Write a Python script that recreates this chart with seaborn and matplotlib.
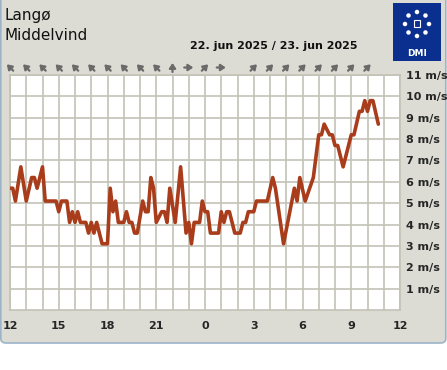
import numpy as np
import pandas as pd
import seaborn as sns
import matplotlib.pyplot as plt
from matplotlib import patches

# Middelvind, Langø - minutter efter kl. 12 (22. jun) og m/s
minutes = [0, 10, 20, 40, 60, 80, 90, 100, 120, 130, 170, 180, 190, 210, 220, 230,
           240, 250, 260, 280, 290, 300, 310, 320, 340, 360, 370, 380, 390, 400,
           420, 430, 440, 450, 460, 470, 490, 500, 510, 520, 530, 540, 560, 570,
           580, 590, 610, 630, 650, 660, 670, 680, 700, 710, 720, 730, 740, 770,
           780, 790, 800, 810, 830, 850, 860, 870, 880, 900, 910, 950, 970, 980,
           1010, 1050, 1060, 1070, 1090, 1120, 1140, 1150, 1160, 1180, 1190, 1200,
           1210, 1230, 1260, 1270, 1290, 1300, 1310, 1320, 1330, 1340, 1360]
wind = [5.7, 5.7, 5.1, 6.7, 5.1, 6.2, 6.2, 5.7, 6.7, 5.1, 5.1, 4.6, 5.1, 5.1, 4.1, 4.6,
        4.1, 4.6, 4.1, 4.1, 3.6, 4.1, 3.6, 4.1, 3.1, 3.1, 5.7, 4.6, 5.1, 4.1,
        4.1, 4.6, 4.1, 4.1, 3.6, 3.6, 5.1, 4.6, 4.6, 6.2, 5.7, 4.1, 4.6, 4.6,
        4.1, 5.7, 4.1, 6.7, 3.6, 4.1, 3.1, 4.1, 4.1, 5.1, 4.6, 4.6, 3.6, 3.6,
        4.6, 4.1, 4.6, 4.6, 3.6, 3.6, 4.1, 4.1, 4.6, 4.6, 5.1, 5.1, 6.2, 5.7,
        3.1, 5.7, 5.1, 6.2, 5.1, 6.2, 8.2, 8.2, 8.7, 8.2, 8.2, 7.7,
        7.7, 6.7, 8.2, 8.2, 9.3, 9.3, 9.8, 9.3, 9.8, 9.8, 8.7]

# vindpilens retning pr. time i grader (0 = mod højre, 90 = op), None = ingen pil
arrow_angles = [135] * 10 + [90, 0, 45, 0, None] + [45] * 8

hour_labels = ['12', '15', '18', '21', '0', '3', '6', '9', '12']
speed_ticks = list(range(1, 12))

title1 = 'Langø'
title2 = 'Middelvind'
date_text = '22. jun 2025 / 23. jun 2025'

W, H = 447, 370
grid_col = '#c2c2b6'
line_col = '#a93c1a'
bg_col = '#dcdcd4'

sns.set_style("white")
fig = plt.figure(figsize=(W / 100, H / 100), dpi=100)
fig.patch.set_facecolor('white')

# grå panel med blålig kant
panel = patches.FancyBboxPatch((0.8 / W, 1 - 343 / H), 445 / W, 343 / H + 0.05,
                               boxstyle="round,pad=0,rounding_size=0.012",
                               transform=fig.transFigure, facecolor=bg_col,
                               edgecolor='#9cb4c8', linewidth=1.2, zorder=-10)
fig.patches.append(panel)

ax = fig.add_axes([10 / W, 60 / H, 390 / W, 235 / H])
ax.set_zorder(1)
ax.set_facecolor('white')

df = pd.DataFrame({'hours': np.array(minutes) / 60.0, 'wind': wind})
sns.lineplot(data=df, x='hours', y='wind', ax=ax, color=line_col,
             linewidth=2.6, zorder=3)

ax.set_xlim(0, 24)
ax.set_ylim(0, 11)
ax.set_xticks(range(0, 25, 3))
ax.set_xticks(range(0, 25), minor=True)
ax.set_xticklabels(hour_labels, fontsize=8, fontweight='bold')
ax.set_yticks(speed_ticks)
ax.set_yticklabels([f'{v} m/s' for v in speed_ticks], fontsize=8, fontweight='bold')
ax.yaxis.tick_right()
ax.tick_params(axis='y', length=0, pad=4.5)
for lab in ax.get_yticklabels():
    lab.set_horizontalalignment('left')
ax.tick_params(axis='x', which='major', length=5, color='#c8c8c0', width=1, pad=3)
ax.tick_params(axis='x', which='minor', length=0)
ax.grid(True, which='both', axis='x', color=grid_col, linewidth=1.2)
ax.grid(True, which='major', axis='y', color=grid_col, linewidth=1.2)
ax.set_axisbelow(True)
for s in ax.spines.values():
    s.set_color(grid_col)
    s.set_linewidth(1.2)
ax.set_xlabel('')
ax.set_ylabel('')

# titler
fig.text(5 / W, 1 - 20 / H, title1, fontsize=11, va='baseline', ha='left', color='#111111')
fig.text(5 / W, 1 - 39.5 / H, title2, fontsize=11, va='baseline', ha='left', color='#111111')
fig.text(190 / W, 1 - 49 / H, date_text, fontsize=8, fontweight='bold',
         va='baseline', ha='left', color='#111111')

# vindpile
L = 4.5
for h, ang in enumerate(arrow_angles):
    if ang is None:
        continue
    x0, y0 = 10 + 16.25 * h, 67.5
    dx, dy = L * np.cos(np.radians(ang)), L * np.sin(np.radians(ang))
    arr = patches.FancyArrowPatch(((x0 - dx) / W, 1 - (y0 + dy) / H),
                                  ((x0 + dx) / W, 1 - (y0 - dy) / H),
                                  transform=fig.transFigure,
                                  arrowstyle='-|>,head_length=2.8,head_width=1.9',
                                  mutation_scale=1, linewidth=1.6, color='#6a6a6a',
                                  shrinkA=0, shrinkB=0, zorder=2)
    fig.patches.append(arr)

# DMI-logo
logo = patches.Rectangle((393 / W, 1 - 61 / H), 48 / W, 58 / H,
                         transform=fig.transFigure, facecolor='#0b2f8f',
                         edgecolor='none', zorder=1)
fig.patches.append(logo)
cx, cy, r = 417, 24, 12
for a in np.linspace(0, 2 * np.pi, 8, endpoint=False):
    dot = patches.Ellipse(((cx + r * np.sin(a)) / W, 1 - (cy - r * np.cos(a)) / H),
                          4.5 / W, 4.5 / H, transform=fig.transFigure,
                          facecolor='white', edgecolor='none', zorder=2)
    fig.patches.append(dot)
crown = patches.Rectangle((414 / W, 1 - 27 / H), 6 / W, 7 / H, transform=fig.transFigure,
                          facecolor='none', edgecolor='white', linewidth=0.8, zorder=2)
fig.patches.append(crown)
fig.text(417 / W, 1 - 53 / H, 'DMI', fontsize=6.5, color='white', ha='center',
         va='center', fontweight='bold')

fig.savefig('out.png', dpi=100, facecolor=fig.get_facecolor())
